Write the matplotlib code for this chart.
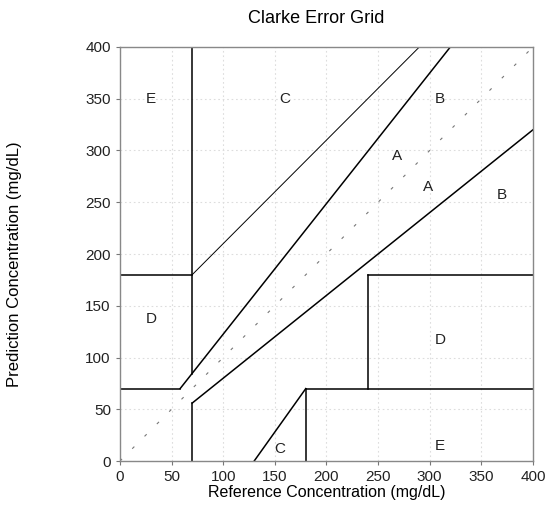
import matplotlib
matplotlib.use("Agg")
import matplotlib.pyplot as plt

plt.rcParams['font.family'] = ['Liberation Sans', 'DejaVu Sans']

# Zone boundary segments: (x0, x1), (y0, y1)
thick_x = [[0, 175/3], [175/3, 320], [70, 70], [0, 70], [70, 70], [70, 400],
           [180, 180], [180, 400], [240, 240], [240, 400], [130, 180]]
thick_y = [[70, 70], [70, 400], [84, 400], [180, 180], [0, 56], [56, 320],
           [0, 70], [70, 70], [70, 180], [180, 180], [0, 70]]
thin_x = [70, 290]
thin_y = [180, 400]
diag = [0, 400]

zone_labels = ["E", "C", "B", "A", "A", "B", "D", "D", "C", "E"]
label_x = [30, 160, 310, 268, 298, 370, 30, 310, 155, 310]
label_y = [350, 350, 350, 295, 265, 257, 137, 117, 12, 15]

ticks = [0, 50, 100, 150, 200, 250, 300, 350, 400]

fig = plt.figure(figsize=(5.5, 5.05), dpi=100)
ax = fig.add_axes([0.218, 0.087, 0.751, 0.82])

ax.grid(True, color='#dddddd', linestyle=(0, (1.5, 2.5)), linewidth=0.8)
ax.set_axisbelow(True)

ax.plot(diag, diag, color='#777777', linestyle=(0, (2.7, 13)), linewidth=0.8)
for xs, ys in zip(thick_x, thick_y):
    ax.plot(xs, ys, color='black', linewidth=1.1)
ax.plot(thin_x, thin_y, color='black', linewidth=0.7)

for t, x, y in zip(zone_labels, label_x, label_y):
    ax.text(x, y, t, fontsize=11, ha='center', va='center', color='#222222')

ax.set_xlim(0, 400)
ax.set_ylim(0, 400)
ax.set_xticks(ticks)
ax.set_yticks(ticks)
ax.tick_params(labelsize=11, direction='out', length=3, color='#777777', labelcolor='#222222')
for s in ax.spines.values():
    s.set_color('#888888')
    s.set_linewidth(1.0)

ax.set_xlabel('Reference Concentration (mg/dL)', fontsize=11.5, labelpad=1)
ax.set_ylabel('Prediction Concentration (mg/dL)', fontsize=12)
ax.yaxis.set_label_coords(-0.237, 0.476)
ax.set_title('Clarke Error Grid', fontsize=13, pad=17, x=0.475)

fig.savefig('out.png', dpi=100)
